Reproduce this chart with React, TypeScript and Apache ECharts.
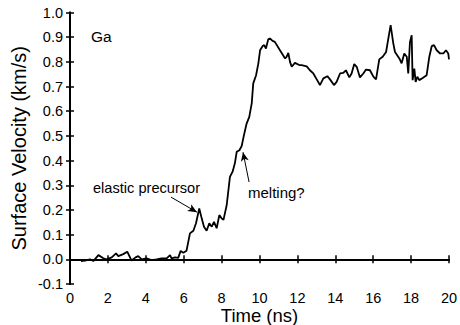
import React, { useEffect, useRef } from "react";
import * as echarts from "echarts";

const timeNs = [
  0.58, 0.79, 1.06, 1.23, 1.5, 1.76, 1.93, 2.2, 2.43, 2.55, 2.81, 3.02, 3.25, 3.46, 3.6, 3.78, 4.04, 4.3, 4.57, 4.83,
  5.1, 5.28, 5.36, 5.54, 5.71, 5.84, 5.98, 6.15, 6.33, 6.51, 6.65, 6.82, 6.95, 7.07, 7.21, 7.35, 7.48, 7.6, 7.74, 7.88,
  8.0, 8.1, 8.27, 8.44, 8.58, 8.7, 8.8, 8.94, 9.06, 9.18, 9.32, 9.46, 9.59, 9.67, 9.82, 9.94, 10.03, 10.17, 10.25, 10.34,
  10.46, 10.55, 10.69, 10.81, 11.08, 11.35, 11.43, 11.52, 11.61, 11.7, 11.87, 12.1, 12.22, 12.49, 12.66, 12.84, 13.02,
  13.19, 13.37, 13.58, 13.72, 13.93, 14.07, 14.25, 14.42, 14.56, 14.74, 14.86, 15.0, 15.13, 15.3, 15.48, 15.62, 15.83,
  16.01, 16.15, 16.32, 16.5, 16.68, 16.8, 16.92, 17.06, 17.15, 17.38, 17.5, 17.64, 17.77, 17.85, 17.94, 18.03, 18.08,
  18.17, 18.24, 18.33, 18.43, 18.61, 18.82, 18.96, 19.09, 19.21, 19.35, 19.53, 19.7, 19.84, 19.96, 20.0,
];

const velocity = [
  -0.007, -0.005, 0.0, -0.007, 0.017, 0.004, 0.0, 0.008, 0.024, 0.013, 0.021, 0.031, -0.005, 0.008, 0.013, 0.0, 0.004,
  -0.003, 0.0, 0.004, 0.004, 0.017, 0.004, 0.008, 0.006, 0.034, 0.027, 0.035, 0.105, 0.116, 0.146, 0.206, 0.166, 0.132,
  0.116, 0.146, 0.132, 0.152, 0.126, 0.179, 0.166, 0.16, 0.22, 0.334, 0.355, 0.389, 0.436, 0.442, 0.459, 0.503, 0.55,
  0.577, 0.632, 0.713, 0.746, 0.794, 0.847, 0.864, 0.868, 0.854, 0.891, 0.895, 0.885, 0.881, 0.847, 0.814, 0.82, 0.836,
  0.8, 0.78, 0.796, 0.787, 0.787, 0.782, 0.766, 0.753, 0.729, 0.706, 0.733, 0.742, 0.729, 0.706, 0.719, 0.753, 0.755,
  0.766, 0.737, 0.753, 0.791, 0.78, 0.737, 0.753, 0.769, 0.766, 0.74, 0.729, 0.81, 0.821, 0.84, 0.895, 0.949, 0.875,
  0.84, 0.814, 0.794, 0.834, 0.821, 0.753, 0.88, 0.908, 0.726, 0.773, 0.719, 0.74, 0.726, 0.735, 0.746, 0.82, 0.864,
  0.868, 0.847, 0.834, 0.834, 0.847, 0.834, 0.81,
];

// annotation arrows: [tail, tip] in data coordinates
const elasticArrow = [[5.33, 0.252], [6.7, 0.191]];
const meltingArrow = [[9.45, 0.313], [9.13, 0.434]];

const sampleLabel = "Ga";
const elasticLabel = "elastic precursor";
const meltingLabel = "melting?";
const xTitle = "Time (ns)";
const yTitle = "Surface Velocity (km/s)";

const FONT = "'Liberation Sans', Arial, Helvetica, sans-serif";

export default function App() {
  const ref = useRef<HTMLDivElement>(null);
  useEffect(() => {
    if (!ref.current) return;
    const chart = echarts.init(ref.current, null, { renderer: "svg" });
    const axisLine = { show: true, lineStyle: { color: "#000", width: 2 } };
    const tick = { show: true, inside: true, length: 4, lineStyle: { color: "#000", width: 1.5 } };
    chart.setOption({
      animation: false,
      backgroundColor: "#fff",
      textStyle: { fontFamily: FONT },
      grid: { left: 70, right: 11, top: 12.5, bottom: 41, containLabel: false, outerBoundsMode: "none" },
      xAxis: [
        {
          type: "value",
          min: 0,
          max: 20,
          interval: 2,
          position: "bottom",
          axisLine,
          axisTick: tick,
          splitLine: { show: false },
          axisLabel: { color: "#000", fontSize: 14.5, fontFamily: FONT, margin: 6, lineHeight: 15 },
          name: xTitle,
          nameLocation: "middle",
          nameGap: 21.5,
          nameMoveOverlap: false,
          nameTextStyle: { color: "#000", fontSize: 18.5, fontFamily: FONT, lineHeight: 19 },
        },
        {
          type: "value",
          min: 0,
          max: 20,
          interval: 2,
          position: "top",
          axisLine,
          axisTick: tick,
          splitLine: { show: false },
          axisLabel: { show: false },
        },
      ],
      yAxis: [
        {
          type: "value",
          min: -0.1,
          max: 1.0,
          interval: 0.1,
          position: "left",
          axisLine,
          axisTick: tick,
          splitLine: { show: false },
          axisLabel: {
            color: "#000",
            fontSize: 14.5,
            fontFamily: FONT,
            margin: 7,
            formatter: (v: number) => v.toFixed(1),
          },
          name: yTitle,
          nameLocation: "middle",
          nameGap: 41,
          nameMoveOverlap: false,
          nameTextStyle: { color: "#000", fontSize: 20, fontFamily: FONT },
        },
        {
          type: "value",
          min: -0.1,
          max: 1.0,
          interval: 0.1,
          position: "right",
          axisLine,
          axisTick: tick,
          splitLine: { show: false },
          axisLabel: { show: false },
        },
      ],
      series: [
        {
          type: "line",
          data: timeNs.map((t, i) => [t, velocity[i]]),
          showSymbol: false,
          symbol: "none",
          lineStyle: { color: "#000", width: 1.8 },
          markLine: {
            silent: true,
            symbol: ["none", "arrow"],
            symbolSize: [6, 9],
            label: { show: false },
            lineStyle: { color: "#000", width: 1, type: "solid" },
            data: [
              [{ coord: elasticArrow[0] }, { coord: elasticArrow[1] }],
              [{ coord: meltingArrow[0] }, { coord: meltingArrow[1] }],
            ],
          },
        },
      ],
      graphic: [
        {
          type: "text",
          x: 91,
          y: 36,
          style: { text: sampleLabel, fill: "#000", font: `15.5px ${FONT}`, align: "left", verticalAlign: "middle" },
        },
        {
          type: "text",
          x: 93,
          y: 188,
          style: { text: elasticLabel, fill: "#000", font: `14.6px ${FONT}`, align: "left", verticalAlign: "middle" },
        },
        {
          type: "text",
          x: 248,
          y: 192,
          style: { text: meltingLabel, fill: "#000", font: `15px ${FONT}`, align: "left", verticalAlign: "middle" },
        },
      ],
    });
    return () => chart.dispose();
  }, []);
  return <div ref={ref} style={{ width: 460, height: 325, position: "absolute", left: 0, top: 0 }} />;
}
